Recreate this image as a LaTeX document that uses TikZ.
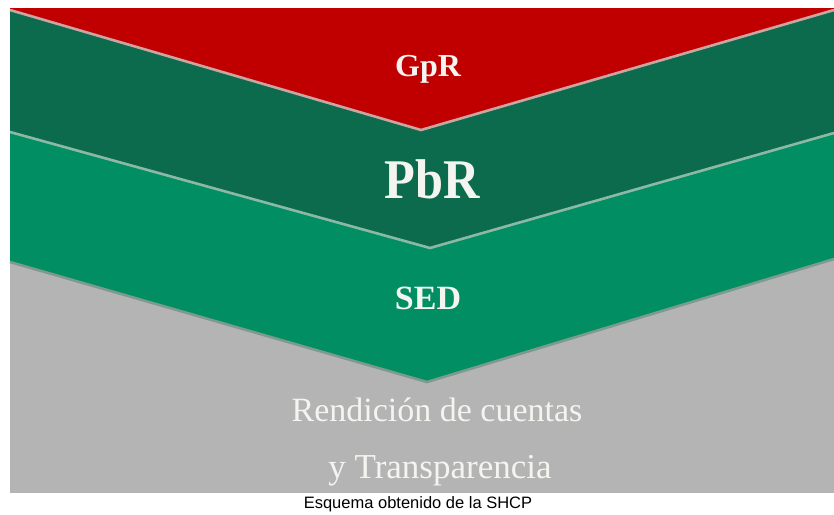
\documentclass[tikz,border=0pt]{standalone}
\usepackage{fontspec}
\setmainfont{Liberation Serif}
\newfontfamily\capfont{Liberation Sans}
\definecolor{redband}{HTML}{C00000}
\definecolor{darkgreen}{HTML}{0B6B4C}
\definecolor{midgreen}{HTML}{008E62}
\definecolor{grayband}{HTML}{B4B4B4}
\definecolor{sepone}{HTML}{C9A6A2}
\definecolor{septwo}{HTML}{8DB8A6}
\definecolor{septhree}{HTML}{7E9A8E}
\definecolor{txtwhite}{HTML}{F4F4F0}
\tikzset{
  bandlabel/.style={text=txtwhite, inner sep=0pt, anchor=base},
  sepline/.style={line width=2.6pt, line join=round}
}
\begin{document}
\begin{tikzpicture}[x=1pt,y=-1pt]
\useasboundingbox (0,0) rectangle (834,514);
\fill[white] (0,0) rectangle (834,514);
% bands
\fill[grayband] (10,8) rectangle (834,493);
\fill[midgreen] (10,8) -- (834,8) -- (834,259) -- (427,382) -- (10,262) -- cycle;
\fill[darkgreen] (10,8) -- (834,8) -- (834,133) -- (430,248) -- (10,132) -- cycle;
\fill[redband] (10,8) -- (834,8) -- (834,10) -- (421,130) -- (10,10) -- cycle;
% separators
\draw[sepline, septhree] (10,262) -- (427,382) -- (834,259);
\draw[sepline, septwo] (10,132) -- (430,248) -- (834,133);
\draw[sepline, sepone] (10,10) -- (421,130) -- (834,10);
% labels
\node[bandlabel] (gpr) at (428,76) {\fontsize{32}{36}\selectfont\bfseries GpR};
\node[bandlabel] (pbr) at (432,198) {\fontsize{56}{64}\selectfont\bfseries\scalebox{0.9}[1]{PbR}};
\node[bandlabel] (sed) at (428,309) {\fontsize{34}{40}\selectfont\bfseries SED};
\node[bandlabel] (rend) at (437,421) {\fontsize{34}{40}\selectfont Rendición de cuentas};
\node[bandlabel] (transp) at (440,478) {\fontsize{35}{40}\selectfont y Transparencia};
\node[inner sep=0pt, text=black] (cap) at (418,504) {\capfont\fontsize{16.5}{18}\selectfont Esquema obtenido de la SHCP};
\end{tikzpicture}
\end{document}
